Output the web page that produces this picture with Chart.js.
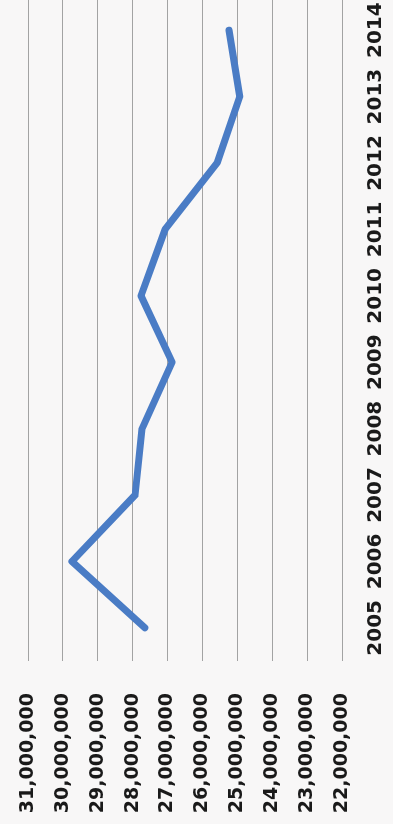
<!DOCTYPE html>
<html>
<head>
<meta charset="utf-8">
<script src="https://cdn.jsdelivr.net/npm/chart.js@4/dist/chart.umd.min.js"></script>
<style>
  html, body { margin: 0; padding: 0; background: #f8f7f7; overflow: hidden; width: 393px; height: 824px; }
  /* chart is laid out landscape, then turned a quarter anticlockwise */
  #wrap {
    position: absolute; left: 0; top: 0;
    width: 827px; height: 393px;
    transform-origin: 0 0;
    transform: translate(0px, 824px) rotate(-90deg);
  }
</style>
</head>
<body>
<div id="wrap"><canvas id="chart" width="827" height="393"></canvas></div>
<script>
// yearly totals
const years = ['2005', '2006', '2007', '2008', '2009', '2010', '2011', '2012', '2013', '2014'];
const totals = [27650000, 29740000, 27930000, 27730000, 26870000, 27760000, 27070000, 25580000, 24930000, 25240000];
const axisMin = 22000000;
const axisMax = 31000000;
const axisStep = 1000000;

const tickFont = { family: 'DejaVu Sans', size: 19, weight: 'bold' };

new Chart(document.getElementById('chart'), {
  type: 'line',
  data: {
    labels: years,
    datasets: [{
      data: totals,
      borderColor: '#4a7cc5',
      borderWidth: 7,
      borderCapStyle: 'round',
      borderJoinStyle: 'round',
      tension: 0,
      pointRadius: 0,
      fill: false
    }]
  },
  options: {
    responsive: false,
    animation: false,
    devicePixelRatio: 1,
    layout: { padding: { top: 28, right: 0, bottom: 0, left: 0 } },
    plugins: { legend: { display: false }, tooltip: { enabled: false } },
    scales: {
      x: {
        offset: true,
        grid: { display: false, drawTicks: false },
        border: { display: false },
        ticks: { font: { ...tickFont, size: 20 }, color: '#1a1a1a', padding: 22, maxRotation: 0, autoSkip: false },
        // plot runs to the canvas edge on the right
        afterFit: s => { s.height = 51; s.paddingLeft = 0; s.paddingRight = 0; }
      },
      y: {
        min: axisMin, max: axisMax,
        grid: { color: '#a3a3a3', lineWidth: 1, drawTicks: false },
        border: { display: false },
        ticks: {
          stepSize: axisStep,
          font: tickFont, color: '#1a1a1a', padding: 32,
          callback: v => v.toLocaleString('en-US')
        },
        // wide label gap, but keep it out of the top/bottom padding
        afterFit: s => { s.width = 163; s.paddingTop = 10; s.paddingBottom = 10; }
      }
    }
  }
});
</script>
</body>
</html>
